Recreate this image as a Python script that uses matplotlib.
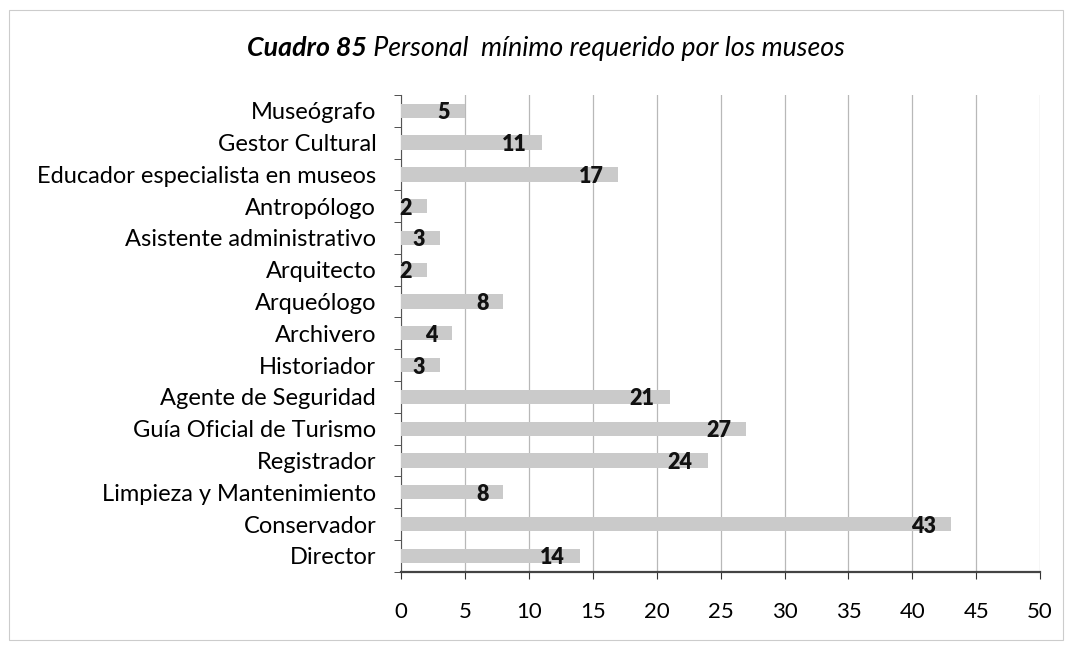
import matplotlib.pyplot as plt
import numpy as np

plt.rcParams['font.family'] = ['Lato', 'DejaVu Sans']

categorias = ['Director', 'Conservador', 'Limpieza y Mantenimiento', 'Registrador',
              'Guía Oficial de Turismo', 'Agente de Seguridad', 'Historiador',
              'Archivero', 'Arqueólogo', 'Arquitecto', 'Asistente administrativo',
              'Antropólogo', 'Educador especialista en museos', 'Gestor Cultural',
              'Museógrafo']
valores = [14, 43, 8, 24, 27, 21, 3, 4, 8, 2, 3, 2, 17, 11, 5]

fig = plt.figure(figsize=(10.7, 6.46), dpi=100)
ax = fig.add_axes([0.375, 0.115, 0.597, 0.738])

y = np.arange(len(categorias))
ax.barh(y, valores, height=0.45, color='#cacaca', zorder=3)

for yi, v in zip(y, valores):
    ax.annotate(str(v), (v, yi), xytext=(-15, -2), textcoords='offset pixels',
                ha='right', va='center', fontsize=15.5, fontweight='heavy',
                color='#111111', zorder=4)

ax.set_xlim(0, 50)
ax.set_ylim(-0.5, len(categorias) - 0.5)
ax.set_xticks(range(0, 51, 5))
ax.set_yticks(y)
ax.set_yticklabels(categorias, fontsize=17)
ax.set_yticks(np.arange(-0.5, len(categorias), 1), minor=True)
ax.tick_params(axis='y', which='major', length=0, pad=18)
ax.tick_params(axis='y', which='minor', length=5, color='#333333')
ax.tick_params(axis='x', labelsize=16, length=5, pad=17, color='#333333')
ax.grid(axis='x', color='#b8b8b8', linewidth=0.9, zorder=0)

for s in ['top', 'right']:
    ax.spines[s].set_visible(False)
ax.spines['left'].set_color('#555555')
ax.spines['bottom'].set_color('#444444')
ax.spines['bottom'].set_linewidth(1.6)

# title: bold italic part followed by italic part
t1 = fig.text(0.231, 0.925, 'Cuadro 85', fontsize=19.3, fontweight='bold',
              fontstyle='italic', ha='left', va='center')
fig.canvas.draw()
bb = t1.get_window_extent().transformed(fig.transFigure.inverted())
fig.text(bb.x1, 0.925, ' Personal  mínimo requerido por los museos', fontsize=19.3,
         fontstyle='italic', ha='left', va='center')

fig.patches.append(plt.Rectangle((0.008, 0.01), 0.985, 0.975, transform=fig.transFigure,
                                 fill=False, edgecolor='#cccccc', linewidth=0.8))

fig.savefig('out.png', dpi=100)
